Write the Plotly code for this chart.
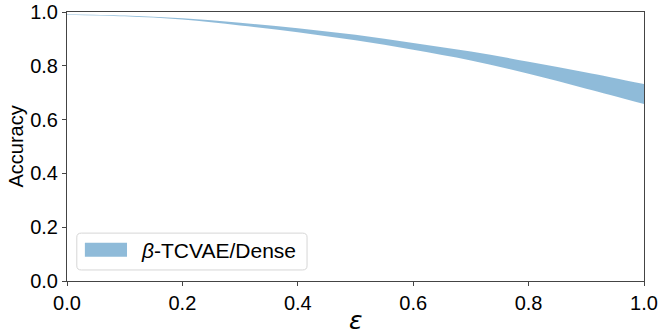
import plotly.graph_objects as go

# data
eps = [0.0, 0.1, 0.2, 0.3, 0.4, 0.5, 0.6, 0.7, 0.8, 0.9, 1.0]
acc_upper = [0.992, 0.987, 0.977, 0.960, 0.940, 0.915, 0.885, 0.853, 0.815, 0.775, 0.732]
acc_lower = [0.990, 0.984, 0.972, 0.950, 0.925, 0.895, 0.860, 0.820, 0.770, 0.715, 0.658]
series_name = "<i>β</i>-TCVAE/Dense"
ticks = [0.0, 0.2, 0.4, 0.6, 0.8, 1.0]
tick_text = ["0.0", "0.2", "0.4", "0.6", "0.8", "1.0"]

band_color = "rgba(31,119,180,0.5)"
axis_color = "#444444"
font_family = "Liberation Sans, Arial, sans-serif"

fig = go.Figure()

# lower bound (invisible), then fill up to upper bound
fig.add_trace(go.Scatter(
    x=eps, y=acc_lower, mode="lines",
    line=dict(width=0, color=band_color, shape="spline"),
    showlegend=False, hoverinfo="skip",
))
fig.add_trace(go.Scatter(
    x=eps, y=acc_upper, mode="lines",
    line=dict(width=0, color=band_color, shape="spline"),
    fill="tonexty", fillcolor=band_color,
    name=series_name, showlegend=False,
))

axis_common = dict(
    range=[0, 1],
    tickvals=ticks,
    ticktext=tick_text,
    ticks="outside",
    ticklen=4,
    tickwidth=1,
    tickcolor=axis_color,
    showline=True,
    linecolor=axis_color,
    linewidth=1,
    mirror=True,
    showgrid=False,
    zeroline=False,
    automargin=False,
    tickfont=dict(size=20, color="black", family=font_family),
)
fig.update_xaxes(**axis_common)
fig.update_yaxes(**axis_common)

# axis titles
fig.add_annotation(xref="paper", yref="paper", x=0.5, y=0, yshift=-39,
                   text="<i>ε</i>", showarrow=False, yanchor="middle",
                   font=dict(size=25, color="black", family="DejaVu Sans"))
fig.add_annotation(xref="paper", yref="paper", x=0, y=0.5, xshift=-52,
                   text="Accuracy", showarrow=False, textangle=-90,
                   xanchor="center", yanchor="middle",
                   font=dict(size=20, color="black", family=font_family))

# legend box (drawn by hand to match the wide swatch)
fig.add_shape(type="path", xref="paper", yref="paper",
              path="M 0.025,0.041 L 0.408,0.041 Q 0.416,0.041 0.416,0.056 L 0.416,0.163 "
                   "Q 0.416,0.178 0.408,0.178 L 0.025,0.178 Q 0.017,0.178 0.017,0.163 "
                   "L 0.017,0.056 Q 0.017,0.041 0.025,0.041 Z",
              line=dict(color="#d6d6d6", width=1), fillcolor="rgba(255,255,255,0.8)")
fig.add_shape(type="rect", xref="paper", yref="paper",
              x0=0.031, x1=0.104, y0=0.090, y1=0.142,
              line=dict(width=0), fillcolor=band_color)
fig.add_annotation(xref="paper", yref="paper", x=0.124, y=0.115,
                   text=series_name, showarrow=False, xanchor="left", yanchor="middle",
                   font=dict(size=21, color="black", family=font_family))

fig.update_layout(
    width=664, height=335,
    margin=dict(l=67, r=20, t=12, b=54),
    plot_bgcolor="white",
    paper_bgcolor="white",
    showlegend=False,
)

# the page body has a default margin; drop it so the figure sits at 0,0
fig.write_html("out.html", config={"displayModeBar": False},
               post_script="document.body.style.margin='0';")
